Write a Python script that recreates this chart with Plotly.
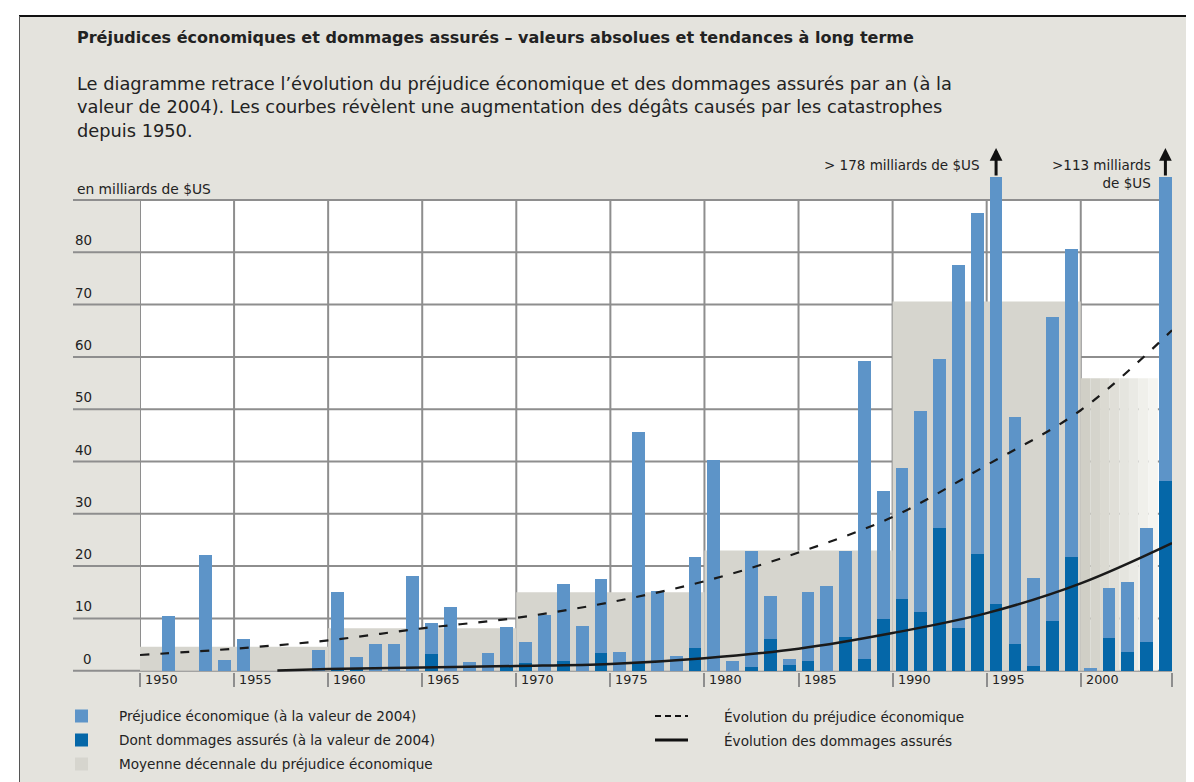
import plotly.graph_objects as go

# Valeurs (milliards de $US, valeur 2004)
years = list(range(1950, 2005))
economic_loss = [
    0, 10.5, 0, 22.2, 2.0, 6.1, 0, 0, 0, 4.0,
    15.0, 2.6, 5.1, 5.1, 18.2, 9.1, 12.1, 1.7, 3.4, 8.3,
    5.5, 10.7, 16.5, 8.5, 17.5, 3.6, 45.6, 15.3, 2.8, 21.7,
    40.2, 1.9, 22.8, 14.2, 2.2, 15.0, 16.1, 22.9, 59.2, 34.3,
    38.8, 49.6, 59.6, 77.6, 87.5, 178, 48.6, 17.7, 67.6, 80.7,
    0.6, 15.9, 17.0, 27.3, 113,
]
insured_loss = [
    0, 0, 0, 0, 0, 0, 0, 0, 0, 0,
    0.5, 0.5, 0, 0, 0, 3.2, 0, 0, 0, 0.8,
    1.5, 0, 1.9, 0, 3.4, 0, 1.7, 0, 0, 4.4,
    0, 0, 0.8, 6.1, 1.0, 1.9, 0, 6.5, 2.2, 9.8,
    13.7, 11.2, 27.3, 8.1, 22.4, 12.8, 5.1, 0.9, 9.5, 21.8,
    0, 6.2, 3.6, 5.5, 36.3,
]
decade_start = [1950, 1960, 1970, 1980, 1990, 2000]
decade_mean = [4.6, 8.1, 15.0, 23.0, 70.6, 55.9]

trend_years = [1949.5, 1954.5, 1959.5, 1964.5, 1969.5, 1974.5, 1979.5, 1984.5,
               1989.5, 1994.5, 1999.5, 2004.35]
economic_trend = [3.0, 4.2, 5.8, 8.1, 10.1, 13.1, 17.1, 22.6, 29.4, 39.3, 49.8, 65.1]
insured_trend_years = [1956.8, 1959.5, 1964.5, 1969.5, 1974.5, 1979.5, 1984.5,
                       1989.5, 1994.5, 1999.5, 2004.35]
insured_trend = [0.05, 0.3, 0.6, 0.9, 1.3, 2.4, 4.2, 7.2, 11.0, 16.7, 24.4]

y_ticks = [0, 10, 20, 30, 40, 50, 60, 70, 80, 90]
x_ticks = [1950, 1955, 1960, 1965, 1970, 1975, 1980, 1985, 1990, 1995, 2000]

PAGE = "#e4e3dd"
BOX = "#d6d5ce"
LIGHT = "#5d94c8"
DARK = "#0567a8"
GRID = "#8e8e8e"
TEXT = "#222222"
FONT = "DejaVu Sans"

# la page html ajoute une marge de 8 px autour de la figure
OFF = 8
W, H = 1186, 774
L, R, T, B = 132, 22, 169, 110
X0, X1 = 1949.5, 2004.35
Y0, Y1 = -0.25, 94.4


def px(x):
    """position horizontale (pixels de l'image) -> coordonnee paper"""
    return (x - OFF - L) / (W - L - R)


def py(y):
    """position verticale (pixels de l'image) -> coordonnee paper"""
    return (H - B - (y - OFF)) / (H - T - B)


fig = go.Figure()

fig.add_trace(go.Bar(x=years, y=economic_loss, width=0.68, marker_color=LIGHT,
                     marker_line_width=0, name="Préjudice économique"))
fig.add_trace(go.Bar(x=years, y=insured_loss, width=0.68, marker_color=DARK,
                     marker_line_width=0, name="Dont dommages assurés"))
fig.add_trace(go.Scatter(x=trend_years, y=economic_trend, mode="lines",
                         line=dict(color="#1a1a1a", width=2.2, dash="9px,11px", shape="spline"),
                         name="Évolution du préjudice économique"))
fig.add_trace(go.Scatter(x=insured_trend_years, y=insured_trend, mode="lines",
                         line=dict(color="#1a1a1a", width=2.5, shape="spline"),
                         name="Évolution des dommages assurés"))

shapes = []
# fond blanc de la zone du graphique
shapes.append(dict(type="rect", xref="paper", yref="y", x0=0, x1=1, y0=0, y1=90,
                   fillcolor="white", line_width=0, layer="below"))
# grille horizontale (prolongee sous les libelles)
for v in y_ticks:
    shapes.append(dict(type="line", xref="paper", yref="y", x0=px(73), x1=1, y0=v, y1=v,
                       line=dict(color=GRID, width=2), layer="below"))
# grille verticale
for t in x_ticks:
    shapes.append(dict(type="line", xref="x", yref="y", x0=t - 0.5, x1=t - 0.5, y0=0, y1=90,
                       line=dict(color=GRID, width=2), layer="below"))
# moyennes decennales
for start, mean in zip(decade_start, decade_mean):
    x0 = start - 0.5
    x1 = min(start + 9.5, years[-1] - 0.4)
    if start < 2000:
        shapes.append(dict(type="rect", xref="x", yref="y", x0=x0, x1=x1, y0=0, y1=mean,
                           fillcolor=BOX, line_width=0, layer="below"))
    else:
        n = 8
        c0, c1 = (208, 207, 198), (245, 245, 241)
        for i in range(n):
            f = i / (n - 1)
            col = "rgb(%d,%d,%d)" % tuple(round(a + (b - a) * f) for a, b in zip(c0, c1))
            shapes.append(dict(type="rect", xref="x", yref="y",
                               x0=x0 + (x1 - x0) * i / n, x1=x0 + (x1 - x0) * (i + 1) / n,
                               y0=0, y1=mean, fillcolor=col, line_width=0, layer="below"))

# cadre de la page
shapes.append(dict(type="rect", xref="paper", yref="paper", x0=px(0), x1=px(1200), y0=py(0), y1=py(16),
                   fillcolor="white", line_width=0, layer="above"))
shapes.append(dict(type="line", xref="paper", yref="paper", x0=px(19), x1=px(1200), y0=py(16), y1=py(16),
                   line=dict(color="#111", width=2), layer="above"))
shapes.append(dict(type="rect", xref="paper", yref="paper", x0=px(0), x1=px(19), y0=py(16), y1=py(790),
                   fillcolor="white", line_width=0, layer="above"))
shapes.append(dict(type="line", xref="paper", yref="paper", x0=px(19.5), x1=px(19.5), y0=py(16), y1=py(790),
                   line=dict(color="#555", width=1), layer="above"))

# legende
legend_rows = [716, 740, 764]
for ypix, col in zip(legend_rows, [LIGHT, DARK, BOX]):
    shapes.append(dict(type="rect", xref="paper", yref="paper", x0=px(75), x1=px(88),
                       y0=py(ypix + 6.5), y1=py(ypix - 6.5), fillcolor=col, line_width=0, layer="above"))
shapes.append(dict(type="line", xref="paper", yref="paper", x0=px(655), x1=px(688),
                   y0=py(716), y1=py(716), line=dict(color="#111", width=2, dash="6px,4px"), layer="above"))
shapes.append(dict(type="line", xref="paper", yref="paper", x0=px(655), x1=px(688),
                   y0=py(740), y1=py(740), line=dict(color="#111", width=3), layer="above"))

annotations = []


def text(x, y, s, size=13, xanchor="left", yanchor="middle", bold=False, align="left", **kw):
    if bold:
        s = "<b>" + s + "</b>"
    annotations.append(dict(xref="paper", yref="paper", x=px(x), y=py(y), text=s, showarrow=False,
                            xanchor=xanchor, yanchor=yanchor, align=align,
                            font=dict(family=FONT, size=size, color=TEXT), **kw))


text(75, 38, "Préjudices économiques et dommages assurés – valeurs absolues et tendances à long terme",
     size=16, bold=True)
text(75, 84, "Le diagramme retrace l’évolution du préjudice économique et des dommages assurés par an (à la", size=17.8)
text(75, 107, "valeur de 2004). Les courbes révèlent une augmentation des dégâts causés par les catastrophes", size=17.8)
text(75, 130, "depuis 1950.", size=17.8)
text(75, 189, "en milliards de $US", size=13.8)

for v in y_ticks[:-1]:
    annotations.append(dict(xref="paper", yref="y", x=px(94), y=v, yshift=2, text=str(v),
                            showarrow=False, xanchor="right", yanchor="bottom",
                            font=dict(family=FONT, size=13.4, color=TEXT)))
for t in x_ticks:
    annotations.append(dict(xref="x", yref="paper", x=t - 0.5, xshift=3, y=py(679), text=str(t),
                            showarrow=False, xanchor="left", yanchor="middle",
                            font=dict(family=FONT, size=12.8, color=TEXT)))

# fleches des valeurs hors echelle
for yr in [1995, 2004]:
    annotations.append(dict(xref="x", yref="paper", x=yr, y=py(148), ax=0, ay=29, text="",
                            showarrow=True, arrowhead=2, arrowsize=0.85, arrowwidth=3, arrowcolor="#111"))
text(982, 165, "&gt; 178 milliards de $US", size=13.5, xanchor="right")
text(1153, 174, "&gt;113 milliards<br>de $US", size=13.5, xanchor="right", align="right")

legend_text = [
    (117, 716, "Préjudice économique (à la valeur de 2004)"),
    (117, 740, "Dont dommages assurés (à la valeur de 2004)"),
    (117, 764, "Moyenne décennale du préjudice économique"),
    (722, 716, "Évolution du préjudice économique"),
    (722, 740, "Évolution des dommages assurés"),
]
for x, y, s in legend_text:
    text(x, y, s, size=13.6)

fig.update_layout(
    width=W, height=H,
    margin=dict(l=L, r=R, t=T, b=B),
    paper_bgcolor=PAGE, plot_bgcolor=PAGE,
    barmode="overlay", bargap=0,
    showlegend=False,
    shapes=shapes, annotations=annotations,
    font=dict(family=FONT, color=TEXT),
    xaxis=dict(range=[X0, X1], showgrid=False, zeroline=False, showline=False,
               tickmode="array", tickvals=[t - 0.5 for t in x_ticks] + [X1],
               ticks="outside", ticklen=14, tickwidth=2, tickcolor=GRID, showticklabels=False,
               fixedrange=True),
    yaxis=dict(range=[Y0, Y1], showgrid=False, zeroline=False, showline=False,
               showticklabels=False, fixedrange=True),
)

fig.write_html("out.html")
